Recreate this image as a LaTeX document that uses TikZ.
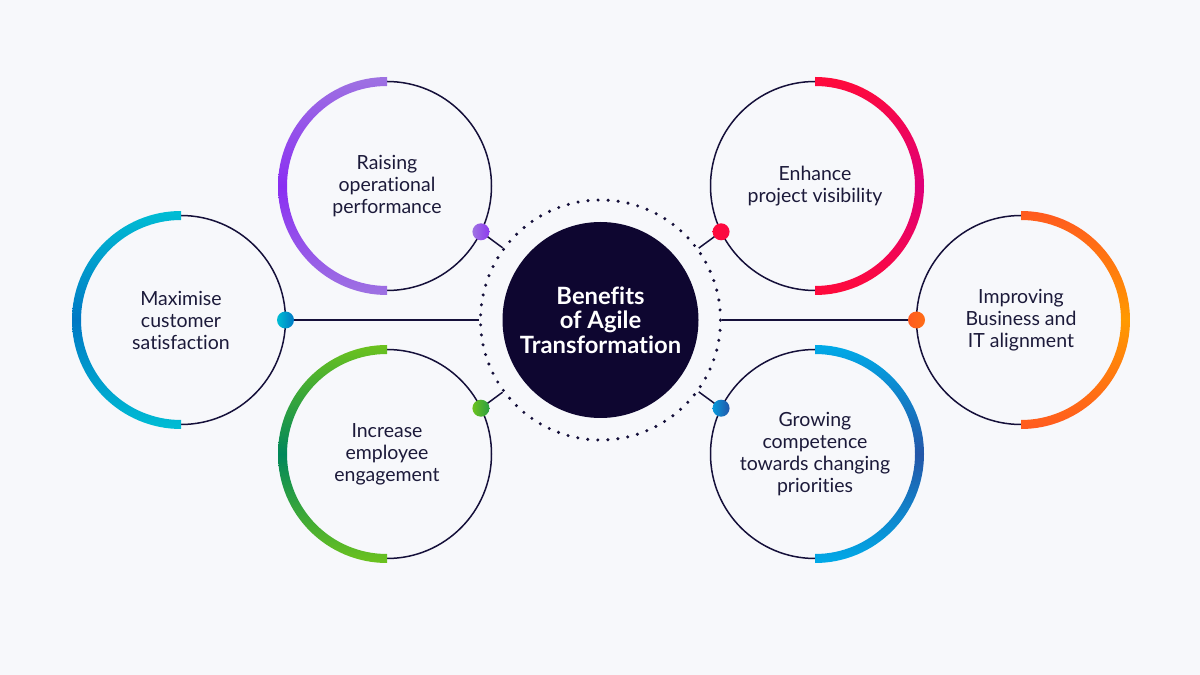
\documentclass[tikz,border=0pt]{standalone}
\usepackage{fontspec}
\setmainfont[Ligatures=NoCommon]{Lato}
\usetikzlibrary{calc}
\definecolor{bgc}{HTML}{F7F8FB}
\definecolor{navy}{HTML}{15103A}
\definecolor{hubc}{HTML}{0E0630}
\definecolor{txt}{HTML}{1C1A3A}
\definecolor{purA}{HTML}{9E72E2}
\definecolor{purB}{HTML}{8A2EF2}
\definecolor{redA}{HTML}{FF0A3A}
\definecolor{redB}{HTML}{DF0079}
\definecolor{cyaA}{HTML}{00BDD4}
\definecolor{cyaB}{HTML}{0078C4}
\definecolor{oraA}{HTML}{FF5A1F}
\definecolor{oraB}{HTML}{FF9A00}
\definecolor{grnA}{HTML}{6CC21E}
\definecolor{grnB}{HTML}{00875A}
\definecolor{bluA}{HTML}{00AAE8}
\definecolor{bluB}{HTML}{2356A8}
\newcommand\ringarc[5]{% cx cy start end ; colours #5 = A/B
  \shade[top color=#5A, bottom color=#5A, middle color=#5B]
    (#1,#2) ++(#3:109) arc[start angle=#3, end angle=#4, radius=109]
    -- ++(0,9) arc[start angle=#4, end angle=#3, radius=100] -- cycle;}
\tikzset{
  thinline/.style={draw=navy, line width=1.5pt},
  conn/.style={draw=navy, line width=1.5pt},
  dotnode/.style={circle, minimum size=17pt, inner sep=0pt},
  lbl/.style={text=txt, align=center, font=\fontsize{19.5}{22}\selectfont},
}
\begin{document}
\begin{tikzpicture}[x=1pt,y=1pt]
\fill[bgc] (0,0) rectangle (1200,675);
\useasboundingbox (0,0) rectangle (1200,675);
% centres
\coordinate (cMax) at (181,355);
\coordinate (cRai) at (387,489);
\coordinate (cInc) at (387,221);
\coordinate (cEnh) at (815,489);
\coordinate (cImp) at (1021,355);
\coordinate (cGro) at (815,221);
% hub and ring
\node[circle, minimum size=240pt, inner sep=0pt, draw=navy, line width=3.4pt,
      dash pattern=on 0pt off 10.05pt, line cap=round] (ring) at (600.5,355) {};
\node[circle, fill=hubc, minimum size=196pt, inner sep=0pt, text=white, align=center,
      font=\bfseries\fontsize{23.8}{24.5}\selectfont] (hub) at (600.5,355)
      {Benefits\\of Agile\\Transformation};
% thin circles
\foreach \c in {cMax,cRai,cInc,cEnh,cImp,cGro}{\draw[thinline] (\c) circle (104.5);}
% thick arcs
\ringarc{181}{355}{90}{270}{cya}
\ringarc{387}{489}{90}{270}{pur}
\ringarc{387}{221}{90}{270}{grn}
\ringarc{815}{489}{90}{-90}{red}
\ringarc{1021}{355}{90}{-90}{ora}
\ringarc{815}{221}{90}{-90}{blu}
% dot positions
\coordinate (pMax) at ($(cMax)+(0:104.5)$);
\coordinate (pRai) at ($(cRai)+(-26:104.5)$);
\coordinate (pInc) at ($(cInc)+(26:104.5)$);
\coordinate (pEnh) at ($(cEnh)+(206:104.5)$);
\coordinate (pImp) at ($(cImp)+(180:104.5)$);
\coordinate (pGro) at ($(cGro)+(154:104.5)$);
% connectors
\foreach \p in {pMax,pRai,pInc,pEnh,pImp,pGro}{\draw[conn] (\p) -- (ring);}
% dots
\node[dotnode, left color=cyaA, right color=cyaB] (dMax) at (pMax) {};
\node[dotnode, left color=purA, right color=purB!80!purA] (dRai) at (pRai) {};
\node[dotnode, left color=grnA, right color=grnB!60!grnA] (dInc) at (pInc) {};
\node[dotnode, left color=redA, right color=redA!85!redB] (dEnh) at (pEnh) {};
\node[dotnode, left color=oraA, right color=oraA!70!oraB] (dImp) at (pImp) {};
\node[dotnode, left color=bluA!80!bluB, right color=bluB] (dGro) at (pGro) {};
% labels
\node[lbl] (tMax) at (cMax) {Maximise\\customer\\satisfaction};
\node[lbl] (tRai) at (cRai) {Raising\\operational\\performance};
\node[lbl] (tInc) at (cInc) {Increase\\employee\\engagement};
\node[lbl] (tEnh) at (cEnh) {Enhance\\project visibility};
\node[lbl] (tImp) at (cImp) {Improving\\Business and\\IT alignment};
\node[lbl] (tGro) at (cGro) {Growing\\competence\\towards changing\\priorities};
\end{tikzpicture}
\end{document}
